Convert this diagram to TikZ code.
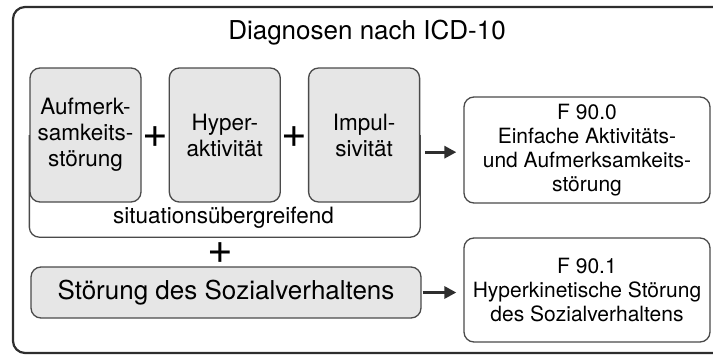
\documentclass[tikz,border=0pt]{standalone}
\usepackage{fontspec}
\setmainfont{TeX Gyre Heros}
\usetikzlibrary{arrows.meta, positioning, fit, backgrounds, calc}
\definecolor{rahmenGrau}{HTML}{2E2E2E}
\definecolor{linieGrau}{HTML}{4A4A4A}
\definecolor{feldGrau}{HTML}{E6E6E6}

\begin{document}
\begin{tikzpicture}[x=1pt, y=-1pt,
        kern/.style={draw=linieGrau, fill=feldGrau, line width=1.3pt, rounded corners=10pt,
            minimum width=111pt, minimum height=134pt, inner sep=0pt, align=center,
            font=\fontsize{22.5}{26}\selectfont},
        diag/.style={draw=linieGrau, fill=white, line width=1.3pt, rounded corners=10pt,
            minimum width=246pt, inner sep=0pt, align=center,
            font=\fontsize{21}{24}\selectfont},
        verknuepf/.style={inner sep=0pt, font=\fontsize{44}{44}\selectfont},
        pfeil/.style={-{Triangle[length=12pt, width=12pt]}, line width=3pt, rahmenGrau}
    ]
        \useasboundingbox (0,0) rectangle (713,356);
        \clip (0,0) rectangle (713,356);
        \draw[rahmenGrau, line width=2.2pt, rounded corners=12pt] (13,7) rectangle (730,353);
        \node[anchor=base, font=\fontsize{26}{30}\selectfont] (titel) at (367,39) {Diagnosen nach ICD-10};

        \node[kern] (aufm) at (85.5,135) {Aufmerk-\\samkeits-\\störung};
        \node[kern, right=27pt of aufm] (hyper) {Hyper-\\aktivität};
        \node[kern, right=27pt of hyper] (impu) {Impul-\\sivität};
        \node[verknuepf] (plusa) at ($(aufm.east)!0.5!(hyper.west)+(0,2)$) {+};
        \node[verknuepf] (plusb) at ($(hyper.east)!0.5!(impu.west)+(0,2)$) {+};
        \node[anchor=base, font=\fontsize{22.5}{26}\selectfont] (situ) at (223.5,223) {situationsübergreifend};
        \coordinate (grpunten) at (223.5,237);
        \node[fit=(aufm)(impu)(grpunten), inner sep=0pt] (grp) {};
        \begin{scope}[on background layer]
            \draw[linieGrau, line width=1.3pt, rounded corners=10pt] (aufm.west) |- (grp.south) -| (impu.east);
        \end{scope}

        \node[verknuepf] (plusc) at (220,253) {+};
        \node[kern, minimum width=390pt, minimum height=51pt, font=\fontsize{26}{30}\selectfont] (sozi) at (226,292.5) {Störung des Sozialverhaltens};

        \node[diag, minimum height=106pt] (f900) at (587,150) {F 90.0\\Einfache Aktivitäts-\\und Aufmerksamkeits-\\störung};
        \node[diag, minimum height=104pt] (f901) at (587,290) {F 90.1\\Hyperkinetische Störung\\des Sozialverhaltens};

        \draw[pfeil, shorten <=5pt, shorten >=7pt] (grp.east) -- (grp.east -| f900.west);
        \draw[pfeil, shorten <=1pt, shorten >=7pt] (sozi.east) -- (sozi.east -| f901.west);
    \end{tikzpicture}
\end{document}
